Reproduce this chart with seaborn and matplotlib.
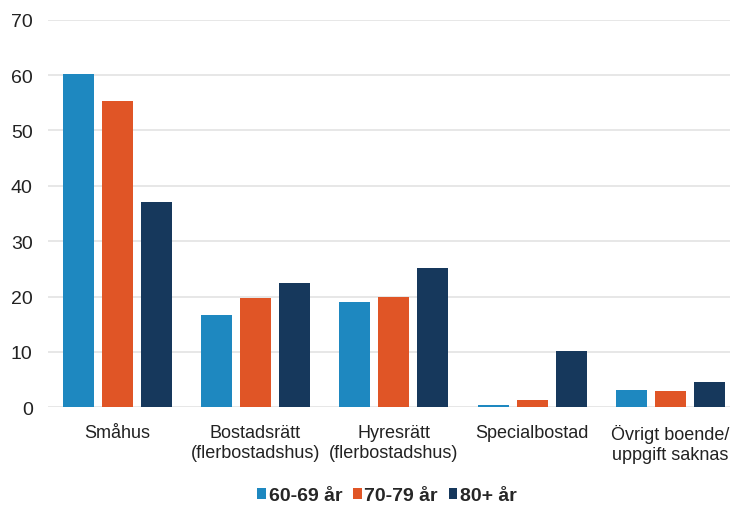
import matplotlib
matplotlib.use("Agg")
import matplotlib.pyplot as plt
import seaborn as sns
import pandas as pd

categories = ["Småhus", "Bostadsrätt\n(flerbostadshus)", "Hyresrätt\n(flerbostadshus)",
              "Specialbostad", "Övrigt boende/\nuppgift saknas"]
series_names = ["60-69 år", "70-79 år", "80+ år"]
v_60_69 = [60.2, 16.7, 19.0, 0.5, 3.2]
v_70_79 = [55.4, 19.7, 20.0, 1.4, 2.9]
v_80 = [37.0, 22.4, 25.2, 10.2, 4.6]
y_ticks = [0, 10, 20, 30, 40, 50, 60, 70]

colors = ["#1e88c0", "#e05526", "#16385c"]

rows = []
for name, vals in zip(series_names, [v_60_69, v_70_79, v_80]):
    for c, v in zip(categories, vals):
        rows.append({"cat": c, "grp": name, "val": v})
df = pd.DataFrame(rows)

sns.set_theme(style="white")
plt.rcParams["font.family"] = ["Liberation Sans", "DejaVu Sans"]

fig = plt.figure(figsize=(7.30, 5.06), dpi=100)
ax = fig.add_axes([48 / 730, 97.7 / 506, 691.5 / 730, 387.6 / 506])

sns.barplot(data=df, x="cat", y="val", hue="grp", order=categories,
            hue_order=series_names, palette=colors, width=0.846, gap=0.205,
            saturation=1, linewidth=0, ax=ax, legend=True)

ax.set_ylim(0, 70)
ax.set_yticks(y_ticks)
ax.set_xlim(-0.5, len(categories) - 0.5)
ax.grid(axis="y", color="#e3e3e3", linewidth=1.2)
ax.set_axisbelow(True)
for s in ax.spines.values():
    s.set_visible(False)
ax.set_xlabel("")
ax.set_ylabel("")
ax.tick_params(axis="both", length=0, colors="#222222")
ax.tick_params(axis="x", pad=12, labelsize=13)
ax.tick_params(axis="y", pad=11, labelsize=14)
for lbl in ax.get_xticklabels():
    lbl.set_horizontalalignment("center")
    lbl.set_multialignment("center")

handles, labels = ax.get_legend_handles_labels()
ax.get_legend().remove()
fig.legend(handles, labels, loc="center", bbox_to_anchor=(387 / 730, 9 / 506),
           ncol=3, frameon=False, prop={"weight": "bold", "size": 14},
           handlelength=0.45, handleheight=0.45, handletextpad=0.15, columnspacing=0.55)

fig.savefig("out.png", dpi=100)
